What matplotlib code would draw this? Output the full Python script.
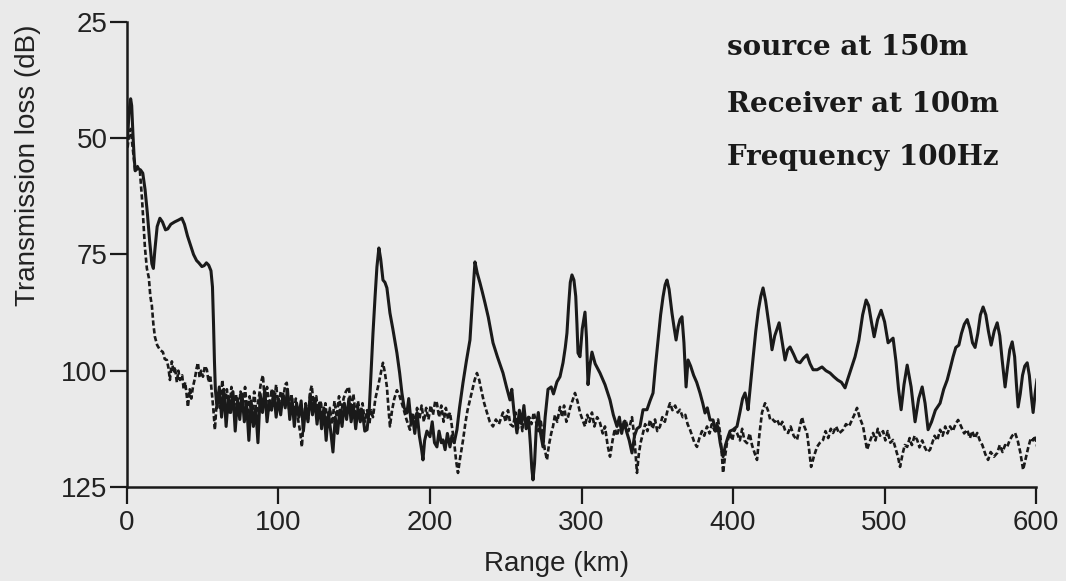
import matplotlib
matplotlib.use("Agg")
import matplotlib.pyplot as plt

# range (km) and transmission loss (dB)
solid_km = [0.5, 1.5, 2.5, 3.2, 4, 4.8, 5.5, 7, 9, 10.5, 12, 13.5, 15, 16.5, 17.5, 18.5, 20, 21.8, 23.5, 25.5,
            27, 29, 31.5, 34, 36.3, 38, 40, 42, 44, 46, 47.5, 49.5, 51, 52.5, 54, 55.5, 56.5, 57.2, 57.8, 58.4,
            59.5, 61, 62.5, 64, 65.5, 67, 68.5, 70, 71.5, 73, 74.5, 76, 77.5, 79, 80.5, 82, 83.5, 85, 86.5, 88,
            89.5, 91, 92.5, 94, 95.5, 97, 98.5, 100, 101.5, 103, 104.5, 106, 107.5, 109, 110.5, 112, 113.5, 115,
            116.5, 118, 119.5, 121, 122.5, 124, 125.5, 127, 128.5, 130, 131.5, 133, 134.5, 136, 137.5, 139, 140.5,
            142, 143.5, 145, 146.5, 148, 149.5, 151, 152.5, 154, 155.5, 157, 158.5,
            160, 161.2, 162.4, 163.8, 165, 166.3, 167.5, 169, 170.3, 171.6, 173.6, 175.5, 178.2, 180, 181.5, 183,
            184.8, 186, 187.5, 188.8, 190, 191.5, 193, 194.5, 195.4, 196.5, 198, 200, 201.5, 203, 204.6, 206,
            207.5, 208.6, 210, 211.5, 213.2, 214.5, 216, 217.8,
            219.5, 221.8, 224, 226.4, 228, 229.7, 231.2, 233, 234.5, 236.3, 238.5, 241.6, 244.5, 248.2, 250.5,
            252.8, 254, 255.5, 257.4, 259, 260.5, 262, 263.5, 265, 266.3, 267.2, 268, 269, 270.2, 271.5, 273,
            274.6, 276, 277.9, 280, 281.5, 283.8, 285.8, 287.8, 289.3, 290.4, 291.5, 292.6, 293.7, 295, 296.2,
            297, 297.7, 299, 300.5, 302.3, 303.3, 304.3, 305.5, 306.9, 309, 312.2, 315.5, 318.8, 321, 323.4, 325,
            326.5, 328, 330, 331.5, 333.3, 335, 336.6, 338.6, 340.6, 343.2, 345.2, 347.2, 348.8, 350.5, 352.2,
            353.8, 355.2, 356.4, 357.8, 359.7, 361, 362.4, 363.8, 365, 366.3, 367.6, 369, 370.3, 372, 374, 376,
            378.2, 380, 381.5, 383, 384.8, 386.8, 388.5, 390, 391.5, 393.4, 395, 396.7, 398, 400, 402.6, 404.5,
            406.3, 407.9, 409, 409.9, 411.5, 413.3, 415, 416.7, 418.3, 419.8, 421.5, 423.1, 424.5, 425.7, 427.5,
            430.4, 432, 434.3, 436, 437.6, 440, 442, 444.2, 446.5, 448.8, 450.8, 452.8, 455.5, 458.7, 461.3, 464,
            466.5, 469, 471.5, 473.9, 475.5, 477.5, 480.5, 483, 485.5, 487.8, 489.5, 491.3, 493.1, 495.4, 497.7,
            500, 502.3, 504, 505.6, 507.5, 509.2, 510.9, 512.8, 514.9, 517.5, 520.1, 522.5, 524.8, 526.7, 528.7,
            531, 533.5, 536.6, 539, 541.3, 543.3, 545.2, 547, 549, 550.7, 552.6, 554.5, 556.3, 558, 559.7, 561.5,
            563.2, 565, 566.8, 568.5, 570.3, 572.3, 574.3, 576, 577.5, 579.5, 581, 582.6, 584.2, 585.8, 587,
            588.1, 589.5, 591, 592.5, 594.1, 595.5, 596.8, 598, 599.3, 600.5]
solid_db = [50, 44, 41.5, 43, 49, 54, 57, 56.5, 56.8, 57.5, 61, 66, 72, 77, 78, 74, 69, 67.2, 68, 69.7,
            69.5, 68.5, 68, 67.6, 67.2, 68.5, 71, 73, 75, 76.3, 76.8, 77.6, 77.4, 76.8, 77.3, 78.5, 82, 90, 98, 104,
            108, 103.5, 110, 104, 112, 105.5, 109, 104.5, 113, 106, 110.5, 105, 111, 107, 115, 106.5, 112, 108, 115.5, 105,
            109, 104, 111, 106.5, 108.5, 104.5, 110, 106, 109.5, 105, 108, 104, 110.5, 106, 112, 107, 110, 106.5,
            113, 107.5, 111, 105, 109.5, 106, 111.5, 107, 112.5, 108, 115, 109, 113, 117.5, 110, 113.5, 108.5,
            112, 107, 110.5, 106, 111, 107.5, 112.5, 108, 111, 109, 113, 112.7,
            108, 100, 92, 84, 77.7, 73.6, 76, 80.5, 81, 82.2, 87.6, 91, 96.2, 100.5, 104.8, 108,
            109.1, 106, 111, 110.6, 113.5, 109, 114, 117, 119.2, 115, 113, 114.2, 111, 115.5, 116.4, 113,
            115.5, 114.9, 117, 113.5, 116.4, 114, 115.5, 112.7,
            108, 102.6, 98, 93.4, 85, 76.6, 79, 81.1, 83, 85.4, 88.5, 94, 97, 100.5, 103.5,
            106.3, 104, 109, 113.4, 108.5, 111.5, 107.5, 112.5, 110, 116, 121, 123.5, 120, 112, 109, 113.5,
            116.4, 110, 104, 103.5, 105, 102.4, 101.3, 98.3, 95, 91.9, 86, 81, 79.4, 80.5, 84,
            90, 96.2, 97, 91, 87.4, 93, 103, 99, 96, 98.5, 100.5, 103, 106.3, 109.5, 112, 110,
            113.5, 111, 113.4, 115, 117.7, 114, 112.5, 112, 108.4, 108.4, 106.5, 104.8, 99, 93.4, 88,
            84.1, 81.5, 80.5, 82.5, 87.6, 90.5, 93.4, 90.5, 89, 88.4, 94, 103.5, 97.7, 99, 101, 102.5,
            104.8, 107, 109.1, 108, 110.6, 110.6, 113, 112, 115.5, 118.5, 116, 114.2, 113, 112.7, 112, 109,
            106, 104.8, 106.5, 108.4, 103, 97, 91.5, 87, 84, 82.2, 85, 88.7, 92, 95.5, 92.5,
            89.7, 93, 97.7, 95.5, 94.9, 96.5, 98, 98.3, 97.3, 96.6, 98.5, 99.8, 99.8, 99.2, 100, 100.5,
            101.3, 102, 102.5, 103.7, 102, 100, 97, 93.5, 88, 84.8, 86, 89.5, 92.7, 89, 87,
            89.5, 94, 93.5, 93, 98, 104, 108.4, 103, 98.8, 103.5, 111, 106, 103.5, 107, 112.7,
            111, 108.5, 107, 104, 102, 99.5, 97, 95, 94.5, 92, 90, 89, 91, 94, 95, 92,
            88, 86.3, 88, 91.5, 94.5, 91.5, 89.7, 92.5, 97.5, 103.5, 99.5, 95.5, 93.8, 97, 103,
            107.8, 105, 101, 99, 98.3, 101, 105.5, 109, 105, 102]

dash_km = [0.5, 1.5, 2.5, 3.5, 4.5, 5.5, 7, 8.6, 10, 11.9, 13.2, 14.5, 15.5, 16.5, 17.5, 18.5, 20, 21.8, 23.8,
           25, 26.4, 27.5, 28.4, 29.7, 31, 31.7, 33, 34, 35, 36.5, 37.5, 38.5, 39.6, 40.3, 41.5, 42.5, 43.6, 45,
           46, 46.9, 48, 49, 50.2, 51.5, 52.8, 54, 55, 56.1, 57, 58.1, 59, 60.1,
           61.5, 63, 64.5, 66, 67.5, 69, 70.5, 72, 73.5, 75, 76.5, 78, 79.5, 81, 82.5, 84, 85.5, 87, 88.5, 89.8,
           91, 92.5, 94, 95.5, 97, 98.5, 100, 101.5, 103, 104.5, 105.5, 107, 108.5, 110, 111.5, 113, 114.5,
           115.5, 116.5, 118, 119.5, 121, 122, 123.5, 125, 126.5, 128, 129.5, 131, 132.5, 134, 135.5, 137,
           138.5, 140, 141.5, 143, 144.5, 146.5, 148, 149.5, 151, 152.5, 154, 155.5, 157, 158.5, 160, 161.2,
           162.4, 164, 165.7, 167.3, 169, 170.3, 171.6, 172.6, 173.6, 175, 176.5, 178.2, 180, 182.2, 184.5,
           186.8, 188.5, 190, 191.5, 193, 194.5, 196, 197.5, 199, 200.5, 202, 203.5, 204.6, 206, 207.5, 209,
           210.5, 212, 213.2, 214.5, 216, 217.3, 218.5, 219.8, 221.8, 223.5, 224.8, 226.4, 228, 229.5, 231,
           232.5, 234.3, 235.8, 237.6, 239.5, 241.6, 243.5, 245.5, 248.2, 250, 251.5, 253, 254.8, 256.5, 258,
           259.5, 261, 262.5, 264, 265.5, 267, 268.5, 270, 271.5, 273, 274.5, 275.8, 277.2, 278.5, 280, 281.2,
           282.5, 284, 285.8, 287.2, 288.5, 290, 291.1, 292.5, 294, 295.7, 297.3, 299, 300.6, 302.3, 303.8,
           305.3, 306.9, 308.5, 310.3, 312.2, 314, 315.5, 317.2, 318.8, 320.5, 322, 323.5, 325.5, 327.4, 329,
           331, 333.3, 334.8, 335.8, 336.6, 337.8, 339, 340.6, 342, 343.5, 345.2, 347, 348.5, 350, 351.8,
           353.3, 355, 356.8, 358.4, 360, 361.8, 363.5, 365, 366.8, 368.5, 370, 371.6, 373, 374.5, 376.2,
           377.8, 379.5, 381, 382.8, 384.5, 386, 388, 390.1, 391.5, 392.6, 393.4, 394.5, 396, 398, 399.5, 401,
           402.6, 404.5, 406, 407.5, 409.2, 411, 412.5, 414, 415.8, 417.3, 419.1, 421.1, 423, 424.5, 425.7,
           427.5, 429, 431, 432.5, 434.5, 436.3, 438, 440, 442.2, 443.8, 445.5, 447, 448.8, 450, 451.5, 453.3,
           455.4, 457.3, 459.4, 461, 462.8, 464.5, 466, 468, 470, 472.6, 474.5, 476.5, 478.5, 480, 481.8,
           483.5, 485.8, 487.1, 488.4, 490.5, 492.4, 494, 495.5, 497, 499, 500.5, 502, 503.8, 505.6, 507,
           508.8, 510.2, 511.8, 513.3, 514.9, 516.5, 518, 519.8, 521.5, 523, 524.8, 526.5, 528.2, 530, 531.5,
           533, 534.8, 536.6, 538.3, 540, 541.5, 543.2, 545, 546.8, 548.5, 550.5, 552.5, 554.5, 556.3, 557.8,
           559.5, 561.1, 562.8, 564.5, 566.5, 568.3, 570, 572.2, 574.3, 576, 577.8, 579.5, 580.9, 582.5,
           584.2, 586.1, 587.8, 589.5, 591.4, 593, 594.8, 596.5, 598, 599.3, 600.7]
dash_db = [52, 49, 48, 51, 54, 57, 56, 57, 63, 73.4, 78, 80, 84, 86, 90, 92.7, 94.5, 95.5, 96,
           97.5, 97.7, 99.5, 102, 98, 100.5, 99.2, 102.5, 100, 102, 101, 104, 102.5, 105.6, 107.8, 104, 106, 103.5, 101.5,
           99.5, 98.3, 101.5, 100, 101.3, 99, 99.8, 102.5, 101, 104.8, 108, 112.7, 108, 105.6,
           108, 102, 107.5, 104, 109, 103.5, 108, 105, 110, 104.5, 108.5, 103.5, 109.5, 105.5, 111, 104.5, 109, 106, 102.5, 101,
           107, 103.5, 108.5, 104, 107.5, 103, 108, 104.5, 106.5, 103, 102.6, 108.5, 105, 109.5, 106, 110.5, 113.5,
           116.4, 111, 107, 110.5, 104.5, 103.2, 108, 105.5, 110, 106.5, 111.5, 107, 112, 108, 111.5, 106.5,
           110, 105.5, 109, 106, 104.5, 103.5, 108.5, 105, 110, 106.5, 109.5, 107, 111, 108.5, 111.5, 108.5,
           110, 106, 103.5, 101, 98.3, 100.5, 103.5, 108, 112, 108.5, 106, 104.2, 105.5, 107.8, 110.5,
           112.7, 109, 111.5, 108, 110.5, 107.5, 111, 108, 110.5, 107.5, 109.5, 106.5, 107, 110, 107.5, 111,
           108, 110.5, 109, 112, 115.5, 119.5, 122, 119, 115, 111, 108.5, 106.3, 104, 102, 100.5,
           102, 104.8, 107, 109, 111, 112, 110.5, 111.5, 109, 111, 108.5, 111.5, 112, 109, 112.5,
           110, 113, 109.5, 112, 110, 111.5, 109, 111, 113, 110.5, 114, 117, 119.2, 116, 113.5, 112,
           109.5, 111, 107.8, 110, 107.5, 111, 110, 108, 106.5, 104.8, 106.5, 109, 110.5, 112, 109.5,
           111, 109, 112, 110, 111.2, 113.5, 112, 116, 118.5, 115, 112.5, 114, 111.5, 112, 110.5,
           113, 110, 114, 118.5, 122, 118, 115.5, 113.4, 111.5, 113, 110.6, 112.5, 110.5, 113, 112,
           110, 111, 108.5, 107, 108.5, 107.5, 109, 108.4, 110, 109.5, 111.5, 112.7, 114, 115.5, 116.4,
           114.5, 113, 114, 112, 113.5, 111.5, 113, 110.5, 113.5, 118, 122, 119, 115.5, 113.4, 115, 112.5,
           113.4, 115, 112.5, 115, 115.6, 113.5, 116, 117.5, 119.2, 114, 109, 107, 108.5, 110.5, 110.3,
           111, 110.5, 112, 111, 113, 113.4, 112, 114, 114.9, 112.5, 110, 112, 113.4, 116.5, 120.7, 118.5,
           116.4, 115.5, 114.9, 113, 114.5, 112.5, 113.4, 112, 113.5, 112.7, 111.5, 112, 110.6, 109.5, 108,
           110, 112, 114.5, 117, 115, 113.4, 115, 112.5, 114, 113, 115, 113, 115.5, 114.9, 116.5,
           118.5, 120.7, 118, 116, 116.4, 114.5, 116, 114, 114.9, 116.5, 115, 116.5, 117.5, 117, 115.5,
           114, 115, 112.7, 114, 112, 113.5, 112, 113, 111.5, 110.6, 112, 113.5, 112.7, 114.5, 113,
           114.5, 113.4, 115, 116, 118, 119.2, 117.5, 118.5, 117.7, 116, 117.5, 116, 116.4, 115,
           114, 113.4, 115, 117.5, 121.3, 119, 116.5, 114.5, 115, 114, 116.4]

x_ticks = [0, 100, 200, 300, 400, 500, 600]
y_ticks = [25, 50, 75, 100, 125]
notes = ["source at 150m", "Receiver at 100m", "Frequency 100Hz"]

paper = "#eaeaea"
ink = "#1a1a1a"

fig = plt.figure(figsize=(10.66, 5.81), dpi=100, facecolor=paper)
ax = fig.add_axes([0.119, 0.162, 0.853, 0.800])
ax.set_facecolor(paper)

ax.plot(solid_km, solid_db, color=ink, lw=2.2, solid_joinstyle="round")
ax.plot(dash_km, dash_db, color=ink, lw=1.9, linestyle=(0, (2.0, 1.0)))

ax.set_xlim(0, 600)
ax.set_ylim(125, 25)
ax.set_xticks(x_ticks)
ax.set_yticks(y_ticks)
for s in ["top", "right"]:
    ax.spines[s].set_visible(False)
for s in ["left", "bottom"]:
    ax.spines[s].set_linewidth(1.8)
    ax.spines[s].set_color(ink)
ax.tick_params(axis="both", direction="out", length=12, width=1.6, colors=ink,
               labelsize=20, labelcolor="#222222")
ax.tick_params(axis="y", pad=2)
ax.tick_params(axis="x", pad=5)
for lab in ax.get_xticklabels() + ax.get_yticklabels():
    lab.set_family("Liberation Sans")

fig.text(0.5225, 0.029, "Range (km)", ha="center", va="center", fontsize=20,
         family="Liberation Sans", color="#222222")
fig.text(0.026, 0.716, "Transmission loss (dB)", rotation=90, ha="center", va="center",
         fontsize=20, family="Liberation Sans", color="#222222")

for i, t in enumerate(notes):
    fig.text(0.682, [0.905, 0.807, 0.716][i], t, fontsize=20, fontweight="bold",
             family="DejaVu Serif", color=ink, va="baseline")

fig.savefig("out.png", dpi=100, facecolor=paper)
